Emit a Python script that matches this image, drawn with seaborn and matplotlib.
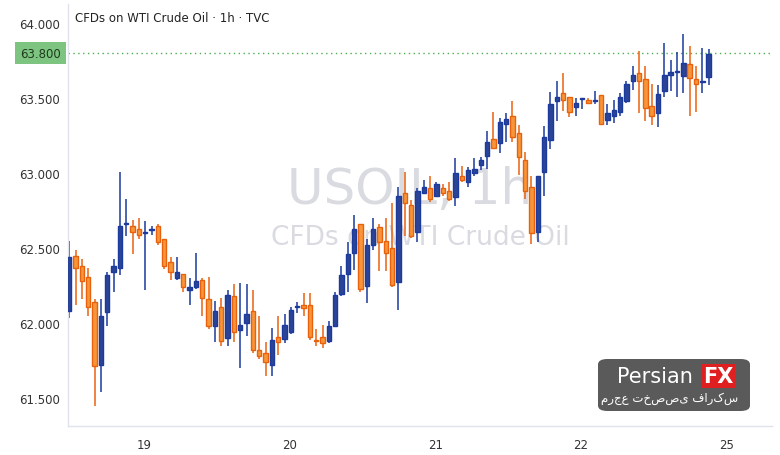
import numpy as np
import pandas as pd
import seaborn as sns
import matplotlib
matplotlib.use("Agg")
import matplotlib.pyplot as plt
from matplotlib.patches import FancyBboxPatch

opens = [62.082,62.444,62.382,62.304,62.138,61.722,62.076,62.338,62.364,62.658,62.644,62.624,62.600,62.618,62.644,62.558,62.404,62.302,62.324,62.222,
         62.242,62.284,62.160,61.978,62.104,61.898,62.180,61.956,61.998,62.078,61.818,61.800,61.722,61.904,61.893,61.942,62.109,62.120,62.120,61.884,
         61.904,61.882,61.982,62.195,62.324,62.464,62.658,62.244,62.522,62.638,62.544,62.498,62.275,62.864,62.784,62.604,62.864,62.898,62.844,62.898,
         62.878,62.838,62.978,62.938,63.000,63.055,63.116,63.227,63.198,63.324,63.378,63.264,63.087,62.904,62.604,63.004,63.222,63.478,63.533,63.504,
         63.438,63.493,63.487,63.482,63.520,63.356,63.382,63.404,63.482,63.611,63.667,63.627,63.444,63.398,63.544,63.653,63.671,63.649,63.727,63.627,
         63.604,63.642]
closes = [62.438,62.364,62.282,62.104,61.716,62.044,62.320,62.382,62.644,62.664,62.604,62.584,62.604,62.620,62.538,62.382,62.338,62.338,62.238,62.238,
          62.278,62.164,61.982,62.078,61.878,62.187,61.938,61.987,62.060,61.822,61.782,61.738,61.884,61.876,61.987,62.087,62.111,62.100,61.904,61.880,
          61.864,61.978,62.187,62.320,62.458,62.627,62.227,62.520,62.624,62.538,62.464,62.255,62.844,62.798,62.582,62.882,62.904,62.827,62.927,62.864,
          62.827,62.998,62.955,63.020,63.027,63.087,63.204,63.164,63.338,63.360,63.238,63.104,62.878,62.598,62.978,63.238,63.460,63.504,63.487,63.404,
          63.464,63.496,63.464,63.487,63.324,63.398,63.420,63.504,63.593,63.653,63.611,63.436,63.378,63.527,63.653,63.676,63.676,63.733,63.631,63.591,
          63.611,63.791]
highs = [62.549,62.489,62.427,62.364,62.160,62.160,62.338,62.427,63.004,62.827,62.687,62.698,62.678,62.649,62.660,62.558,62.438,62.438,62.324,62.300,
         62.464,62.298,62.304,62.144,62.164,62.222,62.260,62.267,62.260,62.222,62.044,61.871,61.967,62.044,62.060,62.104,62.138,62.200,62.200,61.960,
         61.987,62.016,62.209,62.378,62.542,62.720,62.658,62.560,62.698,62.660,62.698,62.798,62.904,63.004,62.822,62.898,62.955,62.978,62.942,62.927,
         62.938,63.100,63.049,63.038,63.100,63.110,63.282,63.404,63.364,63.400,63.482,63.320,63.138,62.978,62.978,63.316,63.538,63.616,63.667,63.504,
         63.500,63.498,63.500,63.544,63.520,63.460,63.489,63.533,63.616,63.716,63.816,63.716,63.593,63.587,63.867,63.753,63.804,63.927,63.849,63.716,
         63.833,63.827]
lows = [62.031,62.120,62.160,62.044,61.449,61.542,61.982,62.204,62.322,62.582,62.460,62.560,62.222,62.586,62.520,62.360,62.289,62.289,62.209,62.120,
        62.227,62.049,61.960,61.871,61.849,61.844,61.871,61.700,61.911,61.800,61.760,61.649,61.649,61.789,61.867,61.927,62.067,62.044,61.889,61.844,
        61.831,61.867,61.971,62.182,62.204,62.353,62.209,62.131,62.489,62.349,62.349,62.238,62.089,62.582,62.564,62.542,62.860,62.804,62.838,62.844,
        62.815,62.782,62.938,62.909,62.978,63.020,63.027,63.164,63.131,63.204,63.204,62.987,62.827,62.527,62.542,62.849,63.160,63.349,63.411,63.371,
        63.382,63.427,63.460,63.460,63.324,63.322,63.331,63.378,63.467,63.553,63.400,63.349,63.320,63.309,63.504,63.549,63.509,63.533,63.382,63.409,
        63.531,63.589]
day_labels = ["19", "20", "21", "22", "25"]
yticks = [61.5, 62.0, 62.5, 63.0, 63.5, 64.0]
last_price = 63.800

df = pd.DataFrame({"o": opens, "c": closes, "h": highs, "l": lows})
df["i"] = np.arange(len(df))
df["up"] = df["c"] >= df["o"]

sns.set_theme(style="white")
fig = plt.figure(figsize=(7.8, 4.56), dpi=100)
ax = fig.add_axes([68/780, 1-427/456, (772-68)/780, (427-5)/456])

UP_FACE, UP_EDGE = "#2B4496", "#1B3A9E"
DN_FACE, DN_EDGE = "#F7953A", "#E8620E"
w = 0.7
for _, r in df.iterrows():
    fc, ec = (UP_FACE, UP_EDGE) if r.up else (DN_FACE, DN_EDGE)
    ax.vlines(r.i, r.l, r.h, color=ec, lw=1.1, zorder=2)
    lo = min(r.o, r.c)
    hgt = max(abs(r.c - r.o), 0.006)
    ax.bar(r.i, hgt, bottom=lo, width=w, color=fc, edgecolor=ec, linewidth=1.0, zorder=3)

ax.set_xlim(-0.2, 111)
ax.set_ylim(61.313, 64.127)
ax.set_yticks(yticks)
ax.set_yticklabels([f"{v:.3f}" for v in yticks], fontsize=8.5, color="#333333")
ax.set_xticks([11.8 + 23 * k for k in range(len(day_labels))])
ax.set_xticklabels(day_labels, fontsize=8.5, color="#333333")
ax.tick_params(axis="both", length=0, pad=6)
ax.tick_params(axis="x", pad=9)
for s in ["top", "right"]:
    ax.spines[s].set_visible(False)
for s in ["left", "bottom"]:
    ax.spines[s].set_color("#E0E3EB")
    ax.spines[s].set_linewidth(1)

ax.axhline(last_price, color="#4CAF50", lw=1, ls=(0, (1, 2.5)), zorder=1)
ax.text(-0.01, last_price, f"{last_price:.3f}", transform=ax.get_yaxis_transform(),
        ha="right", va="center", fontsize=8.5, color="#1E3A1E",
        bbox=dict(boxstyle="square,pad=0.4", fc="#7CC47F", ec="none"))

fig.text(75/780, 1-18/456, "CFDs on WTI Crude Oil · 1h · TVC", fontsize=8.5, color="#222222", va="center")
ax.text(410/780, 1-190/456, "USOIL, 1h", fontsize=36, color="#D9DBE1", ha="center", va="center",
        transform=fig.transFigure, zorder=0)
ax.text(420/780, 1-238/456, "CFDs on WTI Crude Oil", fontsize=19, color="#D9DBE1", ha="center", va="center",
        transform=fig.transFigure, zorder=0)

logo = FancyBboxPatch((598/780, 1-412/456), 152/780, 52/456, boxstyle="round,pad=0,rounding_size=0.012",
                      transform=fig.transFigure, fc="#5A5A5A", ec="none", zorder=5)
fig.patches.append(logo)
fig.text(655/780, 1-377/456, "Persian", fontsize=15, color="white", ha="center", va="center", zorder=6)
fig.text(718/780, 1-377/456, "FX", fontsize=15, color="white", fontweight="bold", ha="center", va="center", zorder=6,
         bbox=dict(boxstyle="square,pad=0.1", fc="#E02020", ec="none"))
fig.text(670/780, 1-399/456, "مرجع تخصصی فارکس", fontsize=8.5, color="white", ha="center", va="center", zorder=6,
         family="DejaVu Sans")

fig.savefig("out.png", dpi=100)
